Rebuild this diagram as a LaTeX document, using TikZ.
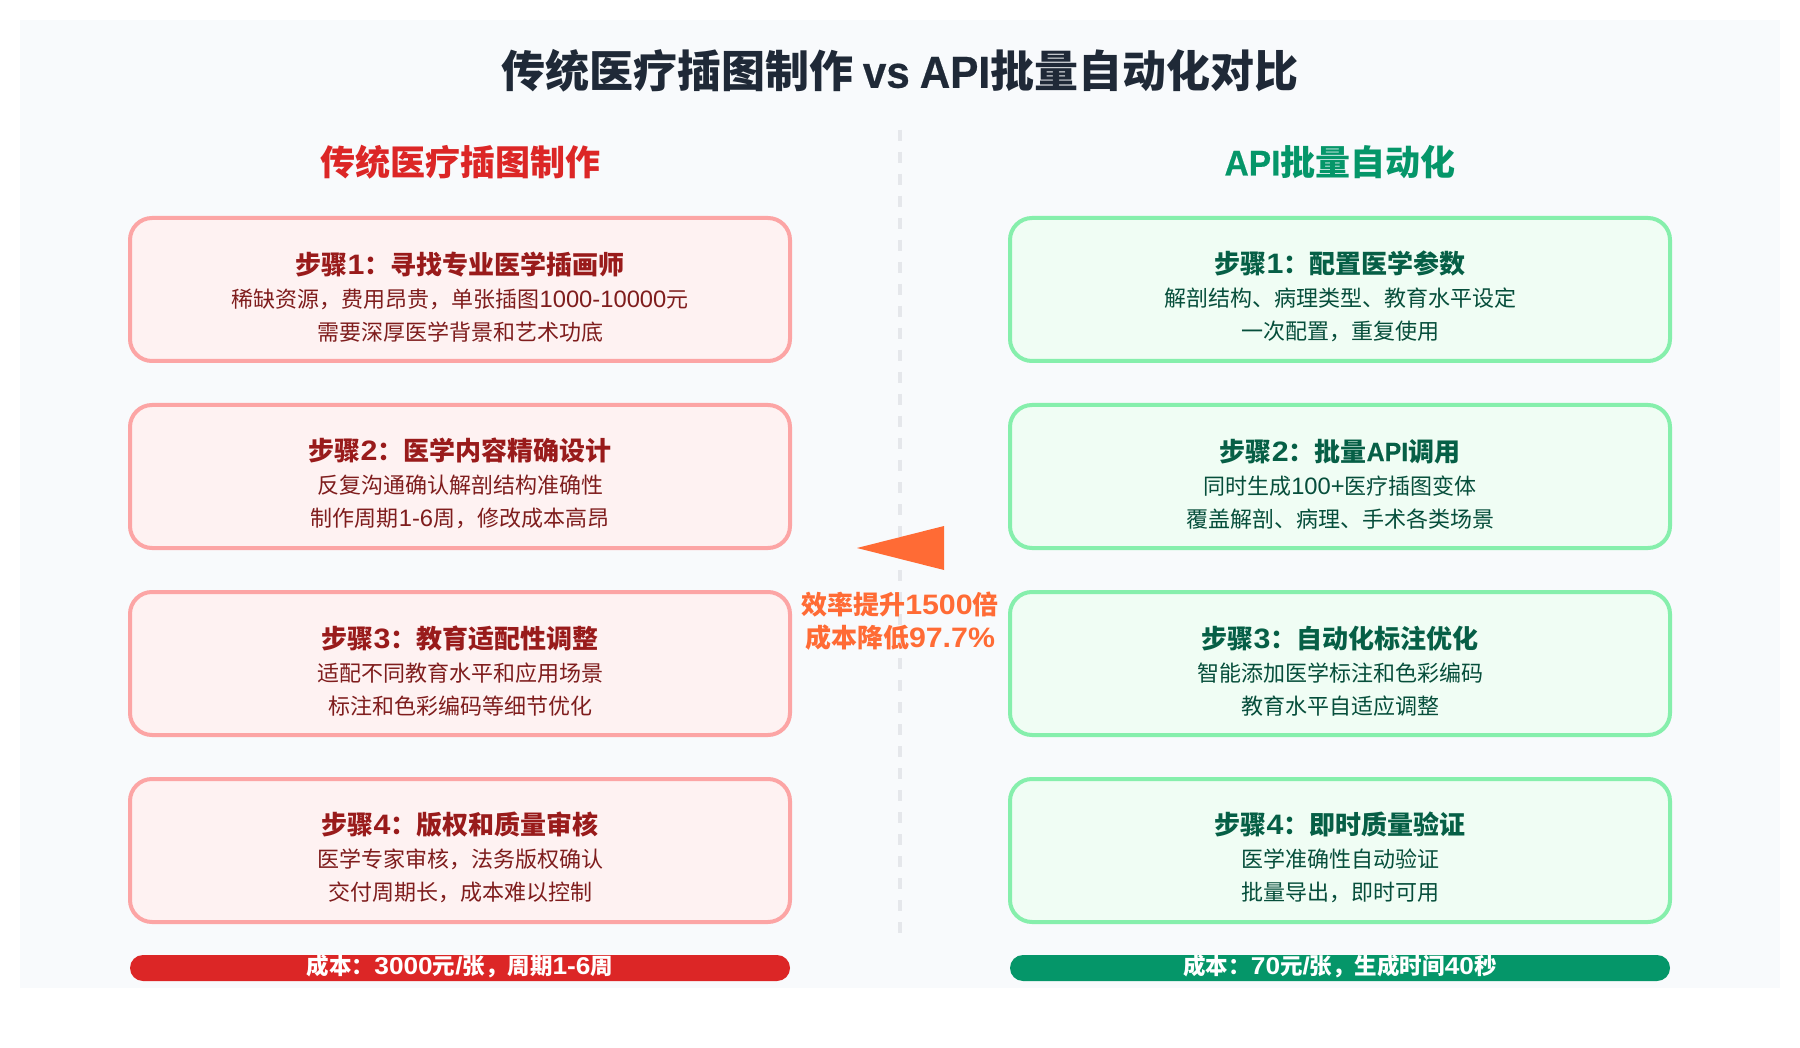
\documentclass[tikz,border=0pt]{standalone}
\usepackage{fontspec}
\setmainfont{Noto Sans CJK SC}
\newfontfamily\latfont[Scale=1.02,FakeStretch=0.94,BoldFeatures={FakeBold=0.5}]{Liberation Sans}
\newfontfamily\regfont[Scale=1.08]{Liberation Sans}
\newfontfamily\digfont[Scale=1.08,FakeStretch=1.08]{Liberation Sans}
\newcommand{\lat}[1]{{\latfont #1}}
\newcommand{\reg}[1]{{\regfont #1}}
\newcommand{\dig}[1]{{\digfont #1}}
\definecolor{pageGray}{HTML}{F8FAFC}
\definecolor{titleInk}{HTML}{1F2937}
\definecolor{lineGray}{HTML}{E5E7EB}
\definecolor{redMain}{HTML}{DC2626}
\definecolor{redFill}{HTML}{FEF2F2}
\definecolor{redEdge}{HTML}{FCA5A5}
\definecolor{redHead}{HTML}{991B1B}
\definecolor{redText}{HTML}{7F1D1D}
\definecolor{greenMain}{HTML}{059669}
\definecolor{greenFill}{HTML}{F0FDF4}
\definecolor{greenEdge}{HTML}{86EFAC}
\definecolor{greenHead}{HTML}{065F46}
\definecolor{greenText}{HTML}{064E3B}
\definecolor{arrowOrange}{HTML}{FF6B35}
\newcommand{\oldHead}[1]{{\rule{0pt}{37pt}\fontsize{26}{33}\selectfont\bfseries\color{redHead}#1}}
\newcommand{\newHead}[1]{{\rule{0pt}{37pt}\fontsize{26}{33}\selectfont\bfseries\color{greenHead}#1}}

\begin{document}
\begin{tikzpicture}[x = 1pt, y = -1pt]
	\tikzstyle{stepStyle} = [shape = rectangle, rounded corners = 22pt, line width = 4pt, minimum width = 660pt, minimum height = 143pt, inner sep = 0pt, align = center, font = \fontsize{22}{33}\selectfont, draw]
	\tikzstyle{redStyle} = [stepStyle, draw = redEdge, fill = redFill, text = redText]
	\tikzstyle{greenStyle} = [stepStyle, draw = greenEdge, fill = greenFill, text = greenText]
	\tikzstyle{barStyle} = [shape = rectangle, rounded corners = 13pt, minimum width = 660pt, minimum height = 26pt, inner sep = 0pt]
	\tikzstyle{barTextStyle} = [inner sep = 0pt, text = white, font = \fontsize{22.5}{28}\selectfont\bfseries]
	\useasboundingbox (0, 0) rectangle (1800, 1048);
	\fill[pageGray] (20, 20) rectangle (1780, 988);
	\coordinate (divTop) at (900, 130);
	\coordinate (divBottom) at (900, 933);
	\draw[lineGray, line width = 4.5pt, dash pattern = on 11pt off 11pt] (divTop) -- (divBottom);
	\node[inner sep = 0pt, text = titleInk, font = \fontsize{44}{50}\selectfont\bfseries] (title) at (900, 71) {传统医疗插图制作\hspace{9pt}\lat{vs}\hspace{10pt}\lat{API}批量自动化对比};
	\node[inner sep = 0pt, text = redMain, font = \fontsize{35}{40}\selectfont\bfseries] (oldTitle) at (460, 162) {传统医疗插图制作};
	\node[inner sep = 0pt, text = greenMain, font = \fontsize{35}{40}\selectfont\bfseries] (newTitle) at (1340, 162) {\lat{API}批量自动化};
	\node[redStyle] (old1) at (460, 289.5) {\oldHead{步骤\dig{1}：寻找专业医学插画师}\\稀缺资源，费用昂贵，单张插图\reg{1000-10000}元\\需要深厚医学背景和艺术功底};
	\node[redStyle] (old2) at (460, 476.5) {\oldHead{步骤\dig{2}：医学内容精确设计}\\反复沟通确认解剖结构准确性\\制作周期\reg{1-6}周，修改成本高昂};
	\node[redStyle] (old3) at (460, 663.5) {\oldHead{步骤\dig{3}：教育适配性调整}\\适配不同教育水平和应用场景\\标注和色彩编码等细节优化};
	\node[redStyle] (old4) at (460, 850.5) {\oldHead{步骤\dig{4}：版权和质量审核}\\医学专家审核，法务版权确认\\交付周期长，成本难以控制};
	\node[greenStyle] (new1) at (1340, 289.5) {\newHead{步骤\dig{1}：配置医学参数}\\解剖结构、病理类型、教育水平设定\\一次配置，重复使用};
	\node[greenStyle] (new2) at (1340, 476.5) {\newHead{步骤\dig{2}：批量\lat{API}调用}\\同时生成\reg{100+}医疗插图变体\\覆盖解剖、病理、手术各类场景};
	\node[greenStyle] (new3) at (1340, 663.5) {\newHead{步骤\dig{3}：自动化标注优化}\\智能添加医学标注和色彩编码\\教育水平自适应调整};
	\node[greenStyle] (new4) at (1340, 850.5) {\newHead{步骤\dig{4}：即时质量验证}\\医学准确性自动验证\\批量导出，即时可用};
	\node[barStyle, fill = redMain] (oldBar) at (460, 968) {};
	\node[barStyle, fill = greenMain] (newBar) at (1340, 968) {};
	\node[barTextStyle] (oldCost) at (460, 966) {成本：\dig{3000}元\dig{/}张，周期\dig{1-6}周};
	\node[barTextStyle] (newCost) at (1340, 966) {成本：\dig{70}元\dig{/}张，生成时间\dig{40}秒};
	\fill[arrowOrange] (857, 548) -- (944, 526) -- (944, 570) -- cycle;
	\node[inner sep = 0pt, align = center, text = arrowOrange, font = \fontsize{26}{33}\selectfont\bfseries] (gain) at (900, 621) {效率提升\dig{1500}倍\\成本降低\dig{97.7\%}};
\end{tikzpicture}
\end{document}
